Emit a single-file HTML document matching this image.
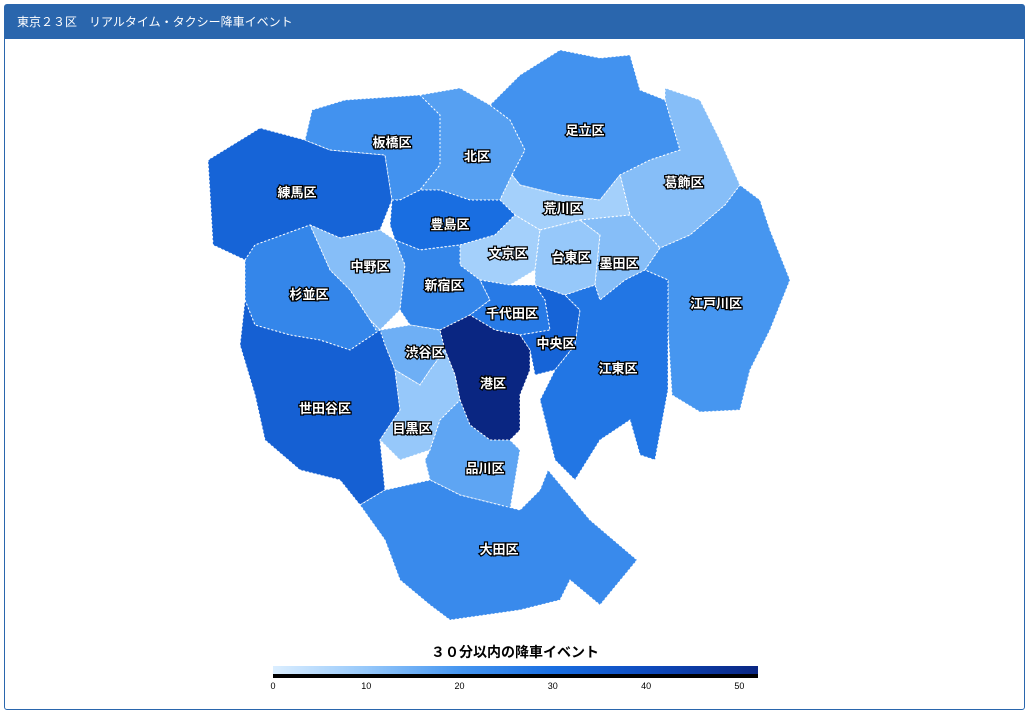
<!DOCTYPE html>
<html><head><meta charset="utf-8">
<style>
body{margin:0;width:1029px;height:716px;background:#fff;font-family:"Liberation Sans","Noto Sans CJK JP",sans-serif;overflow:hidden}
#frame{position:absolute;left:4px;top:4px;width:1021px;height:706px;border:1px solid #2a66ad;border-radius:3px;box-sizing:border-box}
#hdr{position:absolute;left:0;top:0;width:100%;height:34px;background:#2a66ad;color:#fff;font-size:12px;line-height:34px;padding-left:12px;box-sizing:border-box}
svg{position:absolute;left:0;top:0}
</style></head><body>
<div id="frame"><div id="hdr">東京２３区　リアルタイム・タクシー降車イベント</div></div>
<svg id="map" width="1029" height="716"></svg>
<script>
const wards=["練馬区","板橋区","北区","足立区","葛飾区","荒川区","豊島区","文京区","台東区","墨田区","江戸川区","中野区","杉並区","新宿区","千代田区","中央区","江東区","渋谷区","港区","世田谷区","目黒区","品川区","大田区"];
const values=[33,21,18,21,12,8,30,8,10,12,20,12,24,24,27,33,28,15,52,34,10,17,23];
const ticks=[0,10,20,30,40,50];
const shapes=[
"208,160 260,128 305,140 330,150 385,155 392,200 380,230 340,238 310,225 255,245 245,260 213,245",
"305,140 312,110 345,100 420,95 440,115 440,165 420,190 400,200 392,200 385,155 330,150",
"420,95 460,88 490,105 510,120 525,150 512,175 500,200 470,200 440,190 420,190 440,165 440,115",
"490,105 520,75 560,50 600,58 630,55 640,90 665,100 680,150 650,160 620,175 600,200 560,195 520,185 512,175 525,150 510,120",
"665,100 665,88 700,100 720,140 740,185 725,205 690,235 660,248 630,215 620,175 650,160 680,150",
"512,175 520,185 560,195 600,200 620,175 630,215 580,220 540,230 515,215 500,200",
"392,200 400,200 420,190 440,190 470,200 500,200 515,215 495,235 460,245 420,250 395,240 390,225",
"460,245 495,235 515,215 540,230 535,270 510,285 480,280 460,265",
"540,230 580,220 600,235 595,285 565,295 535,285 535,270",
"580,220 630,215 660,248 645,270 625,280 600,300 595,285 600,235",
"740,185 760,200 770,230 790,280 770,330 750,370 740,410 700,412 672,395 668,330 668,280 645,270 660,248 690,235 725,205",
"310,225 340,238 380,230 395,240 405,265 400,310 380,330 370,320 350,290 330,270",
"245,260 255,245 310,225 330,270 350,290 370,320 380,330 350,350 320,340 290,335 255,325 245,300",
"395,240 420,250 460,245 460,265 480,280 490,300 470,315 440,330 410,325 400,310 405,265",
"480,280 510,285 535,285 545,300 550,330 520,335 495,330 470,315 490,300",
"535,285 565,295 580,310 575,345 555,370 535,375 530,350 520,335 550,330 545,300",
"565,295 595,285 600,300 625,280 645,270 668,280 668,330 668,390 655,460 640,455 630,420 600,440 575,480 555,460 540,400 555,370 575,345 580,310",
"370,320 380,330 410,325 440,330 445,350 430,370 420,385 395,370 385,345",
"440,330 470,315 495,330 520,335 530,350 530,370 520,395 520,430 510,440 490,440 470,425 460,400 455,375 445,350",
"245,300 255,325 290,335 320,340 350,350 380,330 385,345 395,370 400,410 380,440 385,490 360,505 340,480 300,470 265,440 255,395 240,345",
"395,370 420,385 430,370 445,350 455,375 460,400 440,420 430,450 400,460 385,445 380,440 400,410",
"460,400 470,425 490,440 510,440 520,450 510,510 500,505 460,495 430,480 425,460 430,450 440,420",
"360,505 385,490 430,480 460,495 500,505 520,510 540,490 548,470 590,520 637,560 600,605 570,580 560,600 520,610 450,620 430,605 400,580 385,540"];
const labelPos=[[297,192],[392,142],[477,156],[585,130],[684,182],[563,208],[450,224],[508,253],[571,257],[619,263],[716,303],[370,266],[309,294],[444,285],[512,313],[556,343],[618,368],[425,352],[493,383],[325,408],[412,428],[485,468],[499,549]];
const stops=[[0,[219,238,255]],[10,[150,200,250]],[20,[70,150,240]],[30,[25,110,225]],[40,[14,75,190]],[52,[10,38,130]]];
function color(v){for(let i=1;i<stops.length;i++){if(v<=stops[i][0]){const a=stops[i-1],b=stops[i],t=(v-a[0])/(b[0]-a[0]);return 'rgb('+a[1].map((c,k)=>Math.round(c+(b[1][k]-c)*t)).join(',')+')';}}return 'rgb(10,38,130)';}
const svg=document.getElementById('map');const NS='http://www.w3.org/2000/svg';
wards.forEach((w,i)=>{const p=document.createElementNS(NS,'polygon');p.setAttribute('points',shapes[i]);p.setAttribute('fill',color(values[i]));p.setAttribute('stroke','#fff');p.setAttribute('stroke-width','1');p.setAttribute('stroke-dasharray','2,2');


svg.appendChild(p);});
wards.forEach((w,i)=>{const t=document.createElementNS(NS,'text');t.setAttribute('x',labelPos[i][0]);t.setAttribute('y',labelPos[i][1]+5);t.setAttribute('text-anchor','middle');t.setAttribute('font-size','13');t.setAttribute('font-weight','bold');t.setAttribute('fill','#fff');t.setAttribute('stroke','#000');t.setAttribute('stroke-width','2.5');t.setAttribute('paint-order','stroke');t.textContent=w;


svg.appendChild(t);});
const x0=273,x1=758,vmax=52;const sx=v=>x0+(x1-x0)*v/vmax;
const defs=document.createElementNS(NS,'defs');const g=document.createElementNS(NS,'linearGradient');g.id='lg';
stops.forEach(s=>{const st=document.createElementNS(NS,'stop');st.setAttribute('offset',s[0]/vmax);st.setAttribute('stop-color',color(s[0]));g.appendChild(st);});
defs.appendChild(g);svg.appendChild(defs);
const r=document.createElementNS(NS,'rect');r.setAttribute('x',x0);r.setAttribute('y',666);r.setAttribute('width',x1-x0);r.setAttribute('height',9);r.setAttribute('fill','url(#lg)');


svg.appendChild(r);
const b=document.createElementNS(NS,'rect');b.setAttribute('x',x0);b.setAttribute('y',674);b.setAttribute('width',x1-x0);b.setAttribute('height',4);b.setAttribute('fill','#000');


svg.appendChild(b);
ticks.forEach(v=>{const t=document.createElementNS(NS,'text');t.setAttribute('x',sx(v));t.setAttribute('y',689);t.setAttribute('text-anchor','middle');t.setAttribute('font-size','9');t.setAttribute('fill','#000');t.textContent=v;


svg.appendChild(t);});
const lt=document.createElementNS(NS,'text');lt.setAttribute('x',515);lt.setAttribute('y',657);lt.setAttribute('text-anchor','middle');lt.setAttribute('font-size','14');lt.setAttribute('font-weight','bold');lt.textContent='３０分以内の降車イベント';


svg.appendChild(lt);
</script>
</body></html>
